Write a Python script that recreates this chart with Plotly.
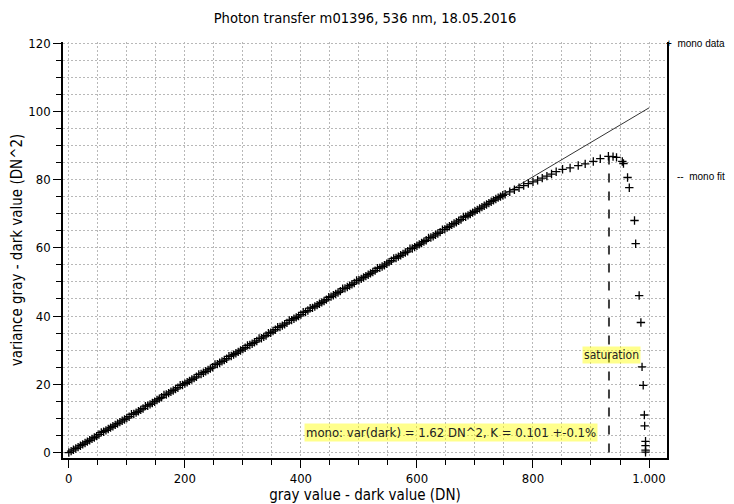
import plotly.graph_objects as go

# ---- data ----
data_x = [0, 4, 8, 12, 16, 20, 24, 28, 32, 36, 40, 44, 48, 52, 56, 60, 64, 68, 72, 76,
          80, 84, 88, 92, 96, 100, 104, 108, 112, 116, 120, 124, 128, 132, 136, 140, 144, 148, 152, 156,
          160, 164, 168, 172, 176, 180, 184, 188, 192, 196, 200, 204, 208, 212, 216, 220, 224, 228, 232, 236,
          240, 244, 248, 252, 256, 260, 264, 268, 272, 276, 280, 284, 288, 292, 296, 300, 304, 308, 312, 316,
          320, 324, 328, 332, 336, 340, 344, 348, 352, 356, 360, 364, 368, 372, 376, 380, 384, 388, 392, 396,
          400, 404, 408, 412, 416, 420, 424, 428, 432, 436, 440, 444, 448, 452, 456, 460, 464, 468, 472, 476,
          480, 484, 488, 492, 496, 500, 504, 508, 512, 516, 520, 524, 528, 532, 536, 540, 544, 548, 552, 556,
          560, 564, 568, 572, 576, 580, 584, 588, 592, 596, 600, 604, 608, 612, 616, 620, 624, 628, 632, 636,
          640, 644, 648, 652, 656, 660, 664, 668, 672, 676, 680, 684, 688, 692, 696, 700, 704, 708, 712, 716,
          720, 724, 728, 732, 736, 740, 744, 748, 752,
          760, 768, 776, 784, 792, 800, 808, 816, 824, 832, 840, 851, 864, 878, 890,
          904, 916, 930, 938, 944, 954, 956, 963, 966, 975, 977, 983, 986, 988, 990, 992, 992.5,
          994, 994, 994, 994]
data_y = [0.0, 0.4, 0.8, 1.2, 1.6, 2.0, 2.4, 2.8, 3.2, 3.6,
          4.0, 4.4, 4.8, 5.3, 5.9, 6.1, 6.5, 6.9, 7.3, 7.7,
          8.1, 8.5, 8.9, 9.3, 9.7, 10.1, 10.5, 11.2, 11.3, 11.7,
          12.1, 12.5, 12.9, 13.6, 13.7, 14.1, 14.5, 14.9, 15.4, 15.8,
          16.2, 16.9, 17.0, 17.4, 17.8, 18.2, 18.6, 19.0, 19.7, 19.8,
          20.2, 20.6, 21.0, 21.4, 21.8, 22.2, 22.9, 23.0, 23.4, 23.8,
          24.2, 24.6, 25.0, 25.8, 25.9, 26.3, 26.7, 27.1, 27.5, 28.2,
          28.3, 28.7, 29.1, 29.5, 29.9, 30.3, 30.7, 31.4, 31.5, 31.9,
          32.3, 32.7, 33.4, 33.5, 33.9, 34.3, 35.0, 35.1, 35.6, 36.0,
          36.7, 36.8, 37.2, 37.6, 38.0, 38.7, 38.8, 39.2, 39.6, 40.0,
          40.4, 41.1, 41.2, 41.6, 42.3, 42.4, 42.8, 43.2, 43.6, 44.0,
          44.4, 44.8, 45.5, 45.7, 46.1, 46.5, 46.9, 47.3, 48.0, 48.1,
          48.5, 48.9, 49.3, 49.7, 50.4, 50.5, 50.9, 51.3, 51.7, 52.1,
          52.5, 52.9, 53.3, 54.0, 54.1, 54.5, 54.9, 55.3, 55.8, 56.2,
          56.9, 57.0, 57.4, 57.8, 58.2, 58.6, 59.0, 59.7, 59.8, 60.2,
          60.6, 61.0, 61.4, 61.8, 62.2, 62.9, 63.0, 63.4, 63.8, 64.2,
          64.6, 65.3, 65.4, 65.9, 66.3, 66.7, 67.1, 67.5, 67.9, 68.3,
          69.0, 69.1, 69.5, 69.9, 70.3, 70.7, 71.1, 71.5, 71.9, 72.3,
          72.7, 73.1, 73.5, 73.9, 74.3, 74.7, 75.0, 75.4, 75.7,
          76.4, 77.0, 77.6, 78.2, 78.8, 79.3, 79.8, 80.4, 81.0, 81.6, 82.3, 83.0, 83.4, 84.1, 84.6,
          85.3, 86.1, 86.8, 86.7, 86.5, 85.3, 84.7, 80.6, 77.6, 68.0, 61.2, 46.0, 38.1, 25.1, 19.7,
          11.0, 7.8, 3.3, 2.0, 0.7, 0.1]

fit_x = [0, 1000]
fit_y = [0.0, 101.0]

saturation_x = [931, 931]
saturation_y = [0.0, 86.8]

x_tick_vals = [0, 200, 400, 600, 800, 1000]
x_tick_text = ["0", "200", "400", "600", "800", "1.000"]
y_tick_vals = [0, 20, 40, 60, 80, 100, 120]

FONT = "DejaVu Sans Condensed, Liberation Sans, sans-serif"
LEG_FONT = "Liberation Sans, Arial, sans-serif"
GRID = "#b8b8b8"
GRID_DASH = "2px,2px"

fig = go.Figure()

fig.add_trace(go.Scatter(
    x=fit_x, y=fit_y, mode="lines", name="mono fit",
    line=dict(color="black", width=0.8), showlegend=False))

fig.add_trace(go.Scatter(
    x=saturation_x, y=saturation_y, mode="lines", name="saturation",
    line=dict(color="#404040", width=2, dash="dash"), showlegend=False))

fig.add_trace(go.Scatter(
    x=data_x, y=data_y, mode="markers", name="mono data",
    marker=dict(symbol="cross-thin", size=6, line=dict(color="black", width=1.3)),
    showlegend=False))

fig.add_annotation(x=936, y=28.7, xref="x", yref="y", text="saturation",
                   showarrow=False, bgcolor="rgba(255,255,0,0.45)",
                   font=dict(family=FONT, size=12, color="#222"), borderpad=1)
fig.add_annotation(x=658, y=5.9, xref="x", yref="y",
                   text="mono: var(dark) = 1.62 DN^2, K = 0.101 +-0.1%",
                   showarrow=False, bgcolor="rgba(255,255,0,0.45)",
                   font=dict(family=FONT, size=13, color="#222"), borderpad=1)

# legend entries placed beside the plot as in the reference
fig.add_annotation(x=1.1, y=120, xref="paper", yref="y", text="+  mono data",
                   showarrow=False, xanchor="right",
                   font=dict(family=LEG_FONT, size=10, color="black"))
fig.add_annotation(x=1.1, y=81, xref="paper", yref="y", text="--  mono fit",
                   showarrow=False, xanchor="right",
                   font=dict(family=LEG_FONT, size=10, color="black"))

fig.update_layout(
    width=726, height=496,
    margin=dict(l=55, r=67, t=34, b=46),
    paper_bgcolor="white", plot_bgcolor="white",
    title=dict(text="Photon transfer m01396, 536 nm, 18.05.2016", x=0.5, xanchor="center",
               xref="paper", yref="container", y=0.98, yanchor="middle",
               font=dict(family=FONT, size=14.6, color="black")),
    font=dict(family=FONT, size=12, color="black"),
)

fig.update_xaxes(
    range=[-10, 1031], tickvals=x_tick_vals, ticktext=x_tick_text, automargin=False,
    showline=True, linecolor="black", linewidth=1.5, mirror=False,
    ticks="outside", ticklen=8, tickcolor="black", tickwidth=1,
    showgrid=True, gridcolor=GRID, griddash=GRID_DASH, gridwidth=1,
    zeroline=False,
    minor=dict(dtick=50, ticks="outside", ticklen=5, tickcolor="black",
               showgrid=True, gridcolor=GRID, griddash=GRID_DASH, gridwidth=1),
    title=dict(text="gray value - dark value (DN)", standoff=4,
               font=dict(family=FONT, size=15)),
    tickfont=dict(family=FONT, size=13),
)
fig.update_yaxes(
    range=[-1.6, 120.3], tickvals=y_tick_vals, automargin=False,
    showline=True, linecolor="black", linewidth=1.5, mirror=True,
    ticks="outside", ticklen=8, tickcolor="black", tickwidth=1,
    showgrid=True, gridcolor=GRID, griddash=GRID_DASH, gridwidth=1,
    zeroline=False,
    minor=dict(dtick=5, ticks="outside", ticklen=5, tickcolor="black",
               showgrid=True, gridcolor=GRID, griddash=GRID_DASH, gridwidth=1),
    title=dict(text="variance gray - dark value (DN^2)", standoff=6,
               font=dict(family=FONT, size=15)),
    tickfont=dict(family=FONT, size=13),
)

fig.write_html("out.html")
